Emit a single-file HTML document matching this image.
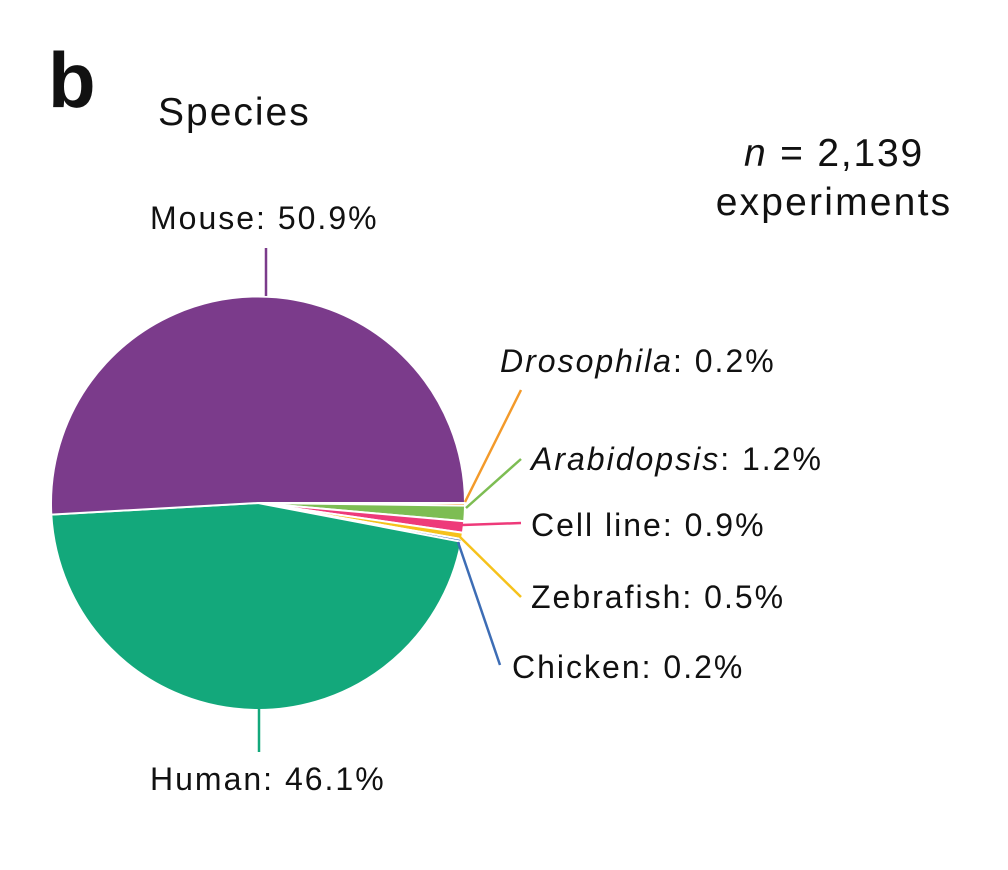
<!DOCTYPE html>
<html><head><style>
body{margin:0;background:#fff;}
svg text{font-family:"Liberation Sans",sans-serif;fill:#111;}
</style></head><body>
<svg width="1008" height="865" viewBox="0 0 1008 865" xmlns="http://www.w3.org/2000/svg">
<text x="48" y="107" font-size="78" font-weight="bold">b</text>
<text x="158" y="125" font-size="39" letter-spacing="2">Species</text>
<text x="834" y="166" font-size="39" letter-spacing="1.8" text-anchor="middle"><tspan font-style="italic">n</tspan> = 2,139</text>
<text x="834" y="215" font-size="39" letter-spacing="2.2" text-anchor="middle">experiments</text>
<g font-size="32" letter-spacing="2">
<text x="150" y="229">Mouse: 50.9%</text>
<text x="150" y="790">Human: 46.1%</text>
<text x="500" y="372"><tspan font-style="italic">Drosophila</tspan>: 0.2%</text>
<text x="531" y="470"><tspan font-style="italic">Arabidopsis</tspan>: 1.2%</text>
<text x="531" y="536">Cell line: 0.9%</text>
<text x="531" y="608">Zebrafish: 0.5%</text>
<text x="512" y="678">Chicken: 0.2%</text>
</g>
<g stroke="#fff" stroke-width="2">
<path d="M258,503 L465,503 A207,207 0 0 1 465,505.6 Z" fill="#f39a2b"/>
<path d="M258,503 L465,505.6 A207,207 0 0 1 464.2,521.2 Z" fill="#7dbd53"/>
<path d="M258,503 L464.2,521.2 A207,207 0 0 1 462.9,532.8 Z" fill="#ee3a7a"/>
<path d="M258,503 L462.9,532.8 A207,207 0 0 1 461.8,539.2 Z" fill="#f6c21c"/>
<path d="M258,503 L461.8,539.2 A207,207 0 0 1 461.3,541.8 Z" fill="#3d6db5"/>
<path d="M258,503 L461.3,541.8 A207,207 0 0 1 51.3,514.6 Z" fill="#13a87b"/>
<path d="M258,503 L51.3,514.6 A207,207 0 1 1 465,503 Z" fill="#7b3b8b"/>
</g>
<g fill="none" stroke-width="2.5">
<line x1="266" y1="248" x2="266" y2="296" stroke="#7b3b8b"/>
<line x1="259" y1="709" x2="259" y2="752" stroke="#13a87b"/>
<line x1="465" y1="502" x2="521" y2="390" stroke="#f39a2b"/>
<line x1="466" y1="508" x2="521" y2="459" stroke="#7dbd53"/>
<line x1="462" y1="525" x2="521" y2="523" stroke="#ee3a7a"/>
<line x1="460" y1="537" x2="521" y2="597" stroke="#f6c21c"/>
<line x1="458" y1="542" x2="500" y2="665" stroke="#3d6db5"/>
</g>
</svg>
</body></html>
